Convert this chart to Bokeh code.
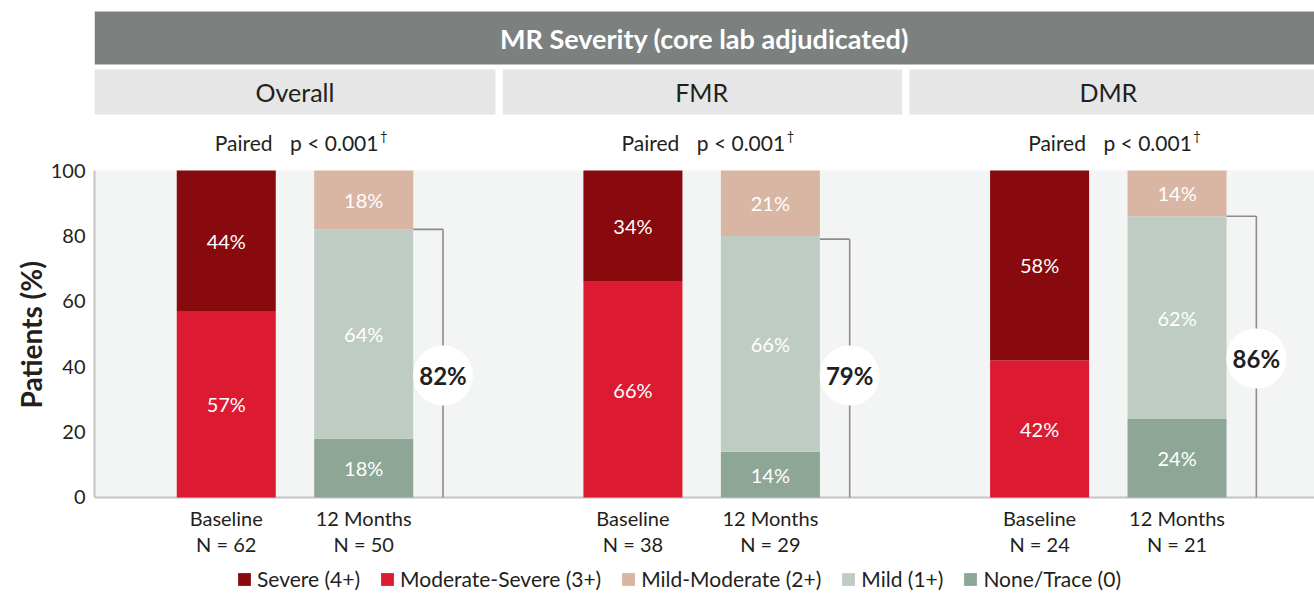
from bokeh.plotting import figure
from bokeh.models import ColumnDataSource, Range1d, FixedTicker, Legend, LegendItem, Title
from bokeh.core.properties import value
from bokeh.embed import file_html
from bokeh.resources import INLINE

# ---------------- data ----------------
panels = ["Overall", "FMR", "DMR"]
timepoints = ["Baseline", "12 Months"]
n_baseline = [62, 38, 24]
n_12m = [50, 29, 21]
severe = [44, 34, 58]            # baseline, Severe (4+)
mod_severe = [57, 66, 42]        # baseline, Moderate-Severe (3+)
mild_moderate = [18, 21, 14]     # 12 months, Mild-Moderate (2+)
mild = [64, 66, 62]              # 12 months, Mild (1+)
none_trace = [18, 14, 24]        # 12 months, None/Trace (0)
improved = [82, 79, 86]          # <= Mild at 12 months
series_names = ["Severe (4+)", "Moderate-Severe (3+)", "Mild-Moderate (2+)", "Mild (1+)", "None/Trace (0)"]
y_ticks = [0, 20, 40, 60, 80, 100]
y_label = "Patients (%)"
title_text = "MR Severity (core lab adjudicated)"
paired_text = "Paired"
p_text = "p < 0.001"
dagger = "\u2020"

# ---------------- style / layout ----------------
FONT = value("Lato")
DARK = "#231f20"
COLORS = {"sv": "#880a0e", "ms": "#dc1a32", "mm": "#d9b5a3", "mi": "#bfccc3", "nt": "#8ea696"}
BASE_OFF, M12_OFF, BAR_W, BRACKET_OFF = 0.324, 0.662, 0.2435, 0.857
BADGE_Y = [37.3, 37.3, 42.5]
W, H = 1314, 595
LEFT = 94

p = figure(width=W, height=H, output_backend="svg", toolbar_location=None,
           x_range=Range1d(0, 3), y_range=Range1d(-29.97, 151.99),
           x_axis_location=None, y_axis_location="left",
           min_border_left=LEFT, min_border_right=0, min_border_top=0, min_border_bottom=0)
p.outline_line_color = None
p.grid.visible = False
p.background_fill_color = "white"
p.border_fill_color = "white"

# y axis
ax = p.yaxis[0]
ax.ticker = FixedTicker(ticks=y_ticks)
ax.bounds = (0, 100)
ax.axis_line_color = "#c4c4c4"
ax.axis_line_width = 2
ax.major_tick_line_color = None
ax.minor_tick_line_color = None
ax.major_tick_out = 0
ax.major_tick_in = 0
ax.axis_label_standoff = 0
ax.major_label_standoff = 9
ax.major_label_text_font = "Lato"
ax.major_label_text_font_size = "20px"
ax.major_label_text_color = DARK

# vertical axis title in the left border
p.add_layout(Title(text=y_label, align="left", offset=187, standoff=0,
                   text_font="Lato", text_font_style="bold", text_font_size="28px",
                   text_color=DARK), "left")

# plot background
p.quad(left=[0], right=[3], bottom=[0], top=[100], fill_color="#f3f5f4", line_color=None)
p.segment(x0=[0], y0=[0], x1=[3], y1=[0], line_color="#c4c4c4", line_width=2)

# headers
p.quad(left=[0], right=[3], bottom=[132.4], top=[148.6], fill_color="#7c8180", line_color=None)
p.text(x=[1.5], y=[140.5], text=[title_text], text_font=FONT, text_font_style="bold",
       text_font_size="27px", text_color="white", text_align="center", text_baseline="middle")
hl = [i + (0.004 if i else 0.0) for i in range(len(panels))]
hr = [i + 0.986 if i < len(panels) - 1 else 3 for i in range(len(panels))]
p.quad(left=hl, right=hr, bottom=[117.1] * 3, top=[130.9] * 3, fill_color="#e6e6e6", line_color=None)
centers = [i + 0.493 for i in range(len(panels))]
p.text(x=centers, y=[124] * 3, text=panels, text_font=FONT, text_font_size="25px",
       text_color=DARK, text_align="center", text_baseline="middle")
p.text(x=[c - 0.055 for c in centers], y=[108.6] * 3, text=[paired_text] * 3, text_font=FONT,
       text_font_size="21px", text_color=DARK, text_align="right", text_baseline="middle")
p.text(x=[c - 0.012 for c in centers], y=[108.6] * 3, text=[p_text] * 3, text_font=FONT,
       text_font_size="21px", text_color=DARK, text_align="left", text_baseline="middle")
p.text(x=[c + 0.209 for c in centers], y=[110.6] * 3, text=[dagger] * 3, text_font=FONT,
       text_font_size="13px", text_color=DARK, text_align="left", text_baseline="middle")

# stacked bars
xs, cols = [], {k: [] for k in ["nt", "mi", "mm", "ms", "sv"]}
for i in range(len(panels)):
    xs += [i + BASE_OFF, i + M12_OFF]
    cols["nt"] += [0, none_trace[i]]
    cols["mi"] += [0, mild[i]]
    cols["mm"] += [0, mild_moderate[i]]
    cols["ms"] += [mod_severe[i], 0]
    cols["sv"] += [severe[i], 0]
order = ["nt", "mi", "mm", "ms", "sv"]
drawn = {k: [] for k in order}
lab_x, lab_y, lab_t = [], [], []
for j, x in enumerate(xs):
    cum = 0
    for k in order:
        v = cols[k][j]
        hi = min(cum + v, 100)   # clip stacks at 100 %
        drawn[k].append(hi - cum)
        if v > 0:
            lab_x.append(x); lab_y.append((cum + hi) / 2); lab_t.append(f"{v}%")
        cum = hi
src = ColumnDataSource(dict(x=xs, **drawn))
rs = p.vbar_stack(order, x="x", width=BAR_W, source=src,
                  fill_color=[COLORS[k] for k in order], line_color=None)
rmap = dict(zip(order, rs))
p.text(x=lab_x, y=lab_y, text=lab_t, text_font=FONT, text_font_size="20px",
       text_color="white", text_align="center", text_baseline="middle")

# brackets + badges
bx = [i + BRACKET_OFF for i in range(len(panels))]
bar_r = [i + M12_OFF + BAR_W / 2 for i in range(len(panels))]
p.segment(x0=bar_r, y0=improved, x1=bx, y1=improved, line_color="#8c8c8c", line_width=1.6)
p.segment(x0=bx, y0=improved, x1=bx, y1=[0] * 3, line_color="#8c8c8c", line_width=1.6)
p.scatter(x=bx, y=BADGE_Y, size=60, marker="circle", fill_color="white", line_color=None)
p.text(x=bx, y=BADGE_Y, text=[f"{v}%" for v in improved], text_font=FONT, text_font_style="bold",
       text_font_size="24px", text_color=DARK, text_align="center", text_baseline="middle")

# x category labels
tx, t1, t2 = [], [], []
for i in range(len(panels)):
    tx += [i + BASE_OFF, i + M12_OFF]
    t1 += timepoints
    t2 += [f"N = {n_baseline[i]}", f"N = {n_12m[i]}"]
p.text(x=tx, y=[-6.4] * len(tx), text=t1, text_font=FONT, text_font_size="20px",
       text_color=DARK, text_align="center", text_baseline="middle")
p.text(x=tx, y=[-14.1] * len(tx), text=t2, text_font=FONT, text_font_size="20px",
       text_color=DARK, text_align="center", text_baseline="middle")

# legend
leg_keys = ["sv", "ms", "mm", "mi", "nt"]
legend = Legend(items=[LegendItem(label=n, renderers=[rmap[k]]) for n, k in zip(series_names, leg_keys)],
                orientation="horizontal", location=(142, 4), glyph_width=16, glyph_height=16,
                label_standoff=5, spacing=19, padding=0, margin=0,
                label_text_font="Lato", label_text_font_size="21px", label_text_color=DARK,
                border_line_color=None, background_fill_alpha=0)
p.add_layout(legend)

open("out.html", "w").write(file_html(p, INLINE))
